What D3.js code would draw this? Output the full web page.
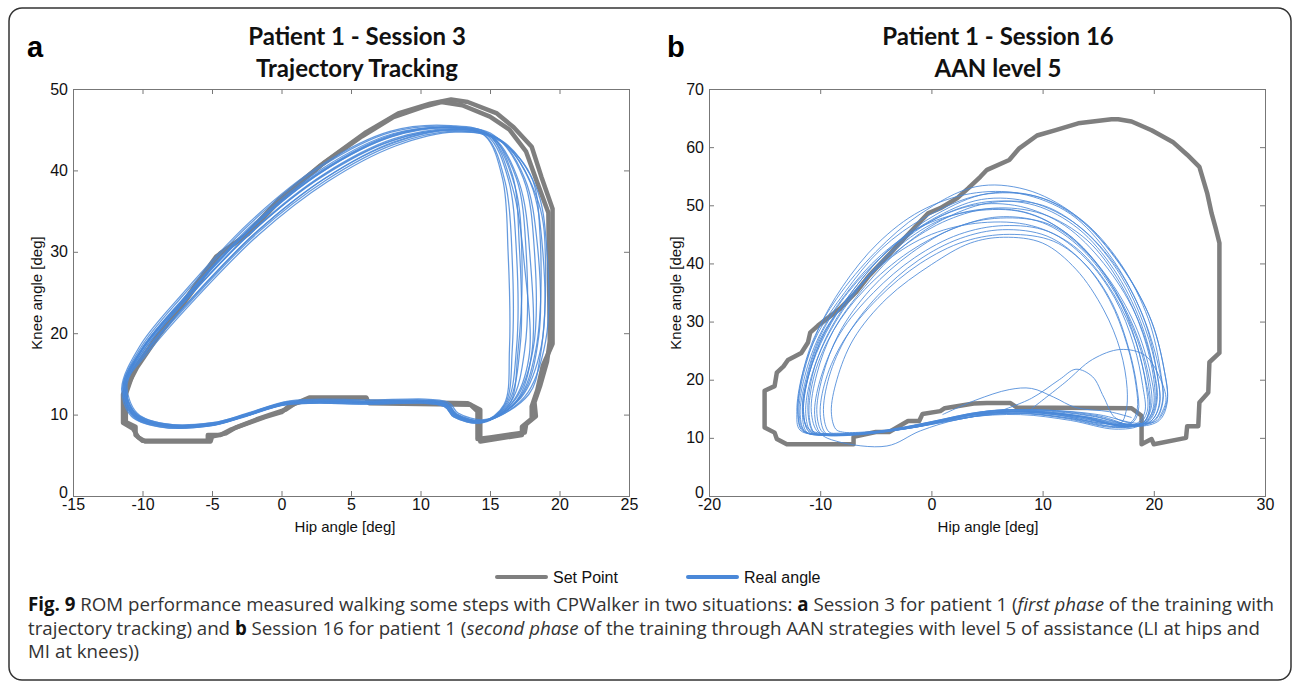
<!DOCTYPE html>
<html>
<head>
<meta charset="utf-8">
<script src="https://cdn.jsdelivr.net/npm/d3@7"></script>
<style>
  body { margin: 0; background: #fff; }
  svg { display: block; }
</style>
</head>
<body>
<div id="vis"></div>
<script>
const FRAME_WIDTH = 1292;
const FRAME_HEIGHT = 683;

// panel boxes (pixels)
const BOX_A = {left: 73, right: 629, top: 89, bottom: 496};
const BOX_B = {left: 709, right: 1265, top: 89, bottom: 496};

// axis ticks
const X_TICKS_A = [-15, -10, -5, 0, 5, 10, 15, 20, 25];
const Y_TICKS_A = [0, 10, 20, 30, 40, 50];
const X_TICKS_B = [-20, -10, 0, 10, 20, 30];
const Y_TICKS_B = [0, 10, 20, 30, 40, 50, 60, 70];

// set point loops [hip, knee] - panel a
const SET_A1 = [[-11.2,12.5],[-11.2,9.1],[-10.5,8.5],[-10.5,7.5],[-10,6.8],[-5.3,6.8],[-5.3,7.5],[-4.4,7.5],[-3.6,8.2],[-2,9.2],[-1.2,9.7],[0,10.3],[0.5,11],[2,12.1],[6.1,12.1],[6.2,11.6],[13.4,11.4],[14.3,10.6],[14.3,6.7],[17.3,7.5],[17.3,8.5],[18,9.5],[18,11],[18.4,13],[18.8,16],[19.5,18.7],[19.5,35.3],[18.7,39.2],[18,42.9],[16.7,45.3],[15.5,47],[13.4,48.4],[12.2,48.7],[10.7,48.2],[8.4,47],[6.1,44.7],[3.1,41],[0.1,36.7],[-2.4,32.2],[-4.7,29.4],[-7.5,22.8],[-9,19.5],[-10.6,15.5]];
const SET_A2 = [[-11.4,12.5],[-11.4,9],[-10.7,8.3],[-10.3,7.2],[-9.8,6.7],[-5.1,6.7],[-5,7.3],[-4,7.7],[-3.3,8.4],[-1.8,9.4],[-0.8,10],[0.3,10.6],[1,11.4],[2.4,12],[6.1,12],[6.3,11.4],[13.6,11.2],[14.1,10.4],[14.1,7],[15,7.2],[17.5,7.8],[17.6,8.8],[18.3,9.8],[18.2,11.5],[18.6,13.5],[19.1,16.5],[19.3,19],[19.2,34.8],[18.4,38.5],[17.6,42.3],[16.4,45],[15,46.6],[13,48],[11.5,48.4],[10.2,47.8],[8,46.5],[5.8,44.2],[2.8,40.6],[-0.2,36.4],[-2.6,32],[-4.4,29.8],[-7.2,23.3],[-8.8,19.8],[-10.4,15.8]];

// set point loop - panel b
const SET_B = [[16.2,64.8],[13.2,64.1],[11.1,62.9],[9.5,62],[7.9,59.8],[7,57.8],[5,56.1],[4.4,54.9],[3.3,52.9],[2.3,51.2],[0.8,49.5],[-0.3,48.6],[-2,45.2],[-5.6,37.9],[-6.8,35],[-8.3,32.1],[-10.2,29.3],[-10.9,28.1],[-11.1,26.4],[-11.7,24.6],[-12.9,23.4],[-13.3,22.3],[-13.9,21.2],[-14.1,18.9],[-15,18.1],[-15,11.8],[-14.1,10.9],[-13.9,9.8],[-13,8.9],[-7,8.9],[-7,10.2],[-5,11],[-3.8,11],[-2.1,12.9],[-1.1,12.9],[-0.8,14.1],[0.8,14.6],[1.2,15.1],[3.8,15.9],[5,16],[7.1,16],[7.7,15.2],[18,15.1],[18.9,13.8],[18.9,8.9],[19.8,9.8],[20,8.9],[22.9,10],[23,12],[24,12],[24.1,16.1],[24.9,17.8],[25,23],[25.9,24.6],[25.9,43.5],[25.6,45.8],[25.2,48.6],[24.8,52.1],[24.1,56.6],[23,58.7],[21.7,60.9],[19.8,62.9],[18,64.4],[16.8,64.8]];

// real angle cycles [hip, knee] - panel a
const REAL_A = [
  [[-11.3,13.5],[-10.6,10],[-8.6,8.7],[-5,8.8],[-2.6,9.9],[0.4,11.4],[6,11.5],[11.8,11.2],[12.5,9.9],[14.5,9.1],[16.2,11.4],[16.9,18],[16.9,30],[16.3,39],[14.8,44.3],[12.3,45.3],[8,44.3],[3,40],[-2,33.2],[-7,24.2],[-10,18]],
  [[-11.2,13.6],[-10.5,10.2],[-8.5,8.9],[-5,9],[-2.5,10.1],[0.5,11.6],[6,11.7],[11.9,11.4],[12.6,10.1],[14.6,9.3],[16.5,11.6],[17.5,18],[17.6,30],[16.9,39],[15.1,44.1],[12.2,45],[8,43.7],[3,39.4],[-2,32.6],[-7,23.8],[-10,17.7]],
  [[-11.4,13.4],[-10.7,9.8],[-8.7,8.5],[-5.1,8.6],[-2.7,9.7],[0.3,11.2],[6,11.3],[11.7,11],[12.4,9.7],[14.4,9],[16.8,11.8],[18.1,18],[18.2,30],[17.4,39],[15.3,44.3],[12.3,45.4],[7.9,44.7],[2.9,40.5],[-2.1,33.7],[-7.1,24.6],[-10.1,18.3]],
  [[-11.1,13.8],[-10.4,10.2],[-8.4,8.9],[-4.9,9],[-2.4,10.2],[0.6,11.7],[6.1,11.8],[12,11.5],[12.7,10.2],[14.7,9.4],[17.2,12],[18.7,18.5],[18.8,30],[17.9,38.5],[15.6,43.9],[12.4,44.8],[8.1,43.2],[3.2,38.8],[-1.8,32.2],[-6.8,23.4],[-9.8,17.5]],
  [[-11.3,13.3],[-10.6,9.8],[-8.6,8.6],[-5,8.7],[-2.6,9.8],[0.4,11.3],[6,11.4],[11.8,11.1],[12.5,9.8],[14.4,9.1],[16,11.2],[16.4,18],[16.3,30],[15.9,39],[14.6,44.3],[12.2,45.3],[8,44.4],[3,40.1],[-2,33.3],[-7,24.3],[-10,18.1]],
  [[-11.2,13.7],[-10.5,10.1],[-8.5,8.8],[-4.9,8.9],[-2.5,10],[0.5,11.5],[6.1,11.6],[11.9,11.3],[12.6,10],[14.6,9.2],[17.5,12.2],[19,19],[19.1,30],[18.3,38],[15.8,43.7],[12.5,44.7],[8.2,43],[3.3,38.6],[-1.7,32],[-6.7,23.3],[-9.7,17.4]],
  [[-11.5,13.2],[-10.8,9.8],[-8.8,8.5],[-5.2,8.6],[-2.8,9.7],[0.2,11.2],[5.9,11.3],[11.7,11],[12.4,9.7],[14.5,9],[16.6,11.5],[17.8,17],[17.5,28],[16.6,38],[14.9,44.4],[12.2,45.5],[7.8,44.8],[2.8,40.6],[-2.2,33.8],[-7.2,24.7],[-10.2,18.4]],
  [[-11.3,13.5],[-10.6,10],[-8.6,8.8],[-5,8.9],[-2.6,10],[0.4,11.5],[6,11.6],[11.8,11.3],[12.5,10],[14.6,9.2],[17,11.8],[18.3,18],[18.6,32],[17.9,39.5],[15.4,44],[12.4,45.1],[8.1,43.9],[3.1,39.6],[-1.9,32.9],[-6.9,24],[-9.9,17.9]],
  [[-11.2,13.5],[-10.5,10],[-8.5,8.7],[-5,8.8],[-2.5,9.9],[0.5,11.4],[6.1,11.5],[11.9,11.2],[12.6,9.9],[14.5,9.1],[16.3,11.4],[17.2,19],[17.1,31],[16.6,39.5],[15,44.4],[12.3,45.3],[8,44.2],[3,39.9],[-2,33.1],[-7,24.1],[-10,18]],
  [[-11.4,13.6],[-10.7,10],[-8.7,8.7],[-5.1,8.8],[-2.7,9.9],[0.3,11.4],[5.9,11.5],[11.7,11.2],[12.4,9.9],[14.5,9.1],[16.9,11.7],[18,17.5],[17.9,29],[17.1,38.5],[15.2,44.1],[12.3,45],[7.9,43.6],[2.9,39.2],[-2.1,32.5],[-7.1,23.7],[-10.1,17.8]],
  [[-11.3,13.4],[-10.6,9.9],[-8.6,8.6],[-5,8.7],[-2.6,9.8],[0.4,11.3],[6,11.4],[11.8,11.1],[12.5,9.8],[14.5,9.1],[16.1,11.3],[16.6,18],[16.6,29],[16.1,38.5],[14.7,44.2],[12.2,45.2],[8,44.5],[3,40.3],[-2,33.5],[-7,24.4],[-10,18.2]],
  [[-11.2,13.7],[-10.5,10.1],[-8.5,8.8],[-4.9,8.9],[-2.5,10],[0.5,11.5],[6.1,11.6],[11.9,11.3],[12.6,10],[14.7,9.3],[17.3,12.4],[18.5,19.5],[18.4,31],[17.5,39],[15.5,44],[12.4,45],[8.1,43.5],[3.2,39.1],[-1.8,32.4],[-6.8,23.6],[-9.8,17.6]],
  [[-11.4,13.3],[-10.7,9.9],[-8.7,8.6],[-5.1,8.7],[-2.7,9.8],[0.3,11.3],[5.9,11.4],[11.7,11.1],[12.4,9.8],[14.4,9.1],[16.4,11.3],[17,17.5],[17.3,29],[16.8,38],[15,44.2],[12.3,45.2],[7.9,44.1],[2.9,39.8],[-2.1,33],[-7.1,24.1],[-10.1,18]],
  [[-11.3,13.6],[-10.6,10.1],[-8.6,8.8],[-5,8.9],[-2.6,10],[0.4,11.5],[6,11.6],[11.8,11.3],[12.5,10],[14.6,9.2],[17.8,12.5],[18.6,17],[19,28],[18.5,36],[16,43.3],[12.5,44.9],[8.1,43.4],[3.1,39],[-1.9,32.3],[-6.9,23.5],[-9.9,17.6]]
];

// real angle cycles - panel b
const REAL_B = [
  [[-11.5,11.2],[-12,14],[-11.7,20],[-10.6,27],[-8.5,34],[-5,42],[-1,48.5],[4,53.2],[8.5,52.7],[12.8,48.5],[16.5,41],[19.6,31],[20.9,22],[21.2,16.5],[20.3,13],[18.5,12.5],[15,14],[10,14.8],[5,14.6],[0,12.8],[-4,11.2],[-8,10.6]],
  [[-11.3,11],[-11.8,14],[-11.3,20],[-10,27.5],[-7.5,35],[-4,42],[0,47.5],[4.5,51],[9,50.5],[13.2,46.5],[16.8,39],[19.2,30],[20.3,21],[20.5,15.5],[19.5,12.5],[17.5,12],[14,13.5],[9,14.5],[4,14.2],[-0.5,12.4],[-5,11],[-9,10.5]],
  [[-11,11],[-11.5,14.5],[-11,21],[-9.5,28.5],[-6.5,36],[-2.5,43],[1.5,47.5],[5.5,49.5],[10,48.5],[14,44],[17,36.5],[19,28],[20,20],[20,15],[19,12.5],[17,12],[13,13.8],[8,14.6],[3,13.8],[-1,12],[-5.5,10.8],[-9.5,10.5]],
  [[-10.5,10.8],[-11,14],[-10.5,21],[-8.8,28.5],[-6,35.5],[-2,42],[2,46],[6,48],[10,47],[13.5,42.5],[16.5,35],[18.5,27],[19.5,19.5],[19.6,14.5],[18.8,12.2],[16.5,11.5],[12.5,13],[8,14],[3,13.5],[-1.5,11.8],[-6,10.6],[-9.5,10.4]],
  [[-10,10.8],[-10.5,14],[-10,20],[-8.2,28],[-5.2,35],[-1.5,41],[2.5,45],[6.5,46.5],[10.5,45.5],[13.8,41],[16.5,34],[18.2,26],[19,19],[19.2,14.5],[18.5,12.5],[16,12],[12,13.5],[7.5,14.3],[2.5,13.2],[-1,11.2],[-4,8.6],[-8.5,9.4]],
  [[-9.5,10.8],[-10,14],[-9.5,20],[-7.8,27],[-4.8,34],[-1,40],[3,43.8],[7,45],[11,43.8],[14,39.5],[16.3,33],[17.8,25],[18.5,18.5],[18.6,14.5],[18,12.5],[15.5,12.5],[11,14],[6.5,14.5],[2,13],[-2.5,11.5],[-6,10.8],[-8.5,10.6]],
  [[-8.6,11.5],[-9,14.5],[-8.5,20],[-7,27],[-4,34],[0,39.8],[3.5,43.5],[6.5,44.5],[10,43.5],[13,39],[15.5,32],[17,25],[17.6,18.5],[17.5,14.5],[17,12.5],[15,12.8],[11,14.2],[6,14.8],[1.5,13.2],[-2.5,11.6],[-6,11],[-8,11]],
  [[-11,11.5],[-11.6,15],[-11,21],[-9.5,28],[-7,35.5],[-3.5,43],[0.5,48.5],[5,52],[9.5,51.5],[13.7,47],[17.3,39],[19.8,30],[21,21],[21.2,16],[20.5,13],[18.5,12],[15,13.8],[10,14.8],[5,14.5],[0,12.5],[-4.5,11],[-8.5,10.6]],
  [[-11.2,11],[-11.6,14],[-11.2,20],[-10,27],[-7.5,34],[-4,40.5],[0,45],[4.5,47],[9,46.5],[12.8,43],[15.8,36.5],[18,28.5],[19.2,20.5],[19.6,15],[19,12.5],[17,11.8],[13,13.2],[8.5,14.2],[3.5,13.8],[-1,12],[-5.5,10.8],[-9.5,10.4]],
  [[-10.2,11],[-10.8,14.5],[-10.3,21],[-8.8,28.5],[-6,36],[-2.5,43],[1.5,48],[5.5,50.5],[10,50],[13.8,45.5],[17,38],[19.2,29],[20.3,21],[20.5,16],[19.8,13],[17.8,12.3],[14,13.6],[9,14.6],[4,14],[-0.5,12.3],[-5,11],[-9,10.6]],
  [[-11.8,11.3],[-12.1,14.5],[-11.6,21],[-10.2,28],[-7.8,35],[-4.5,42.5],[-0.5,48],[4.5,51.8],[9.5,51.5],[13.5,47.5],[17,40],[19.5,30.5],[20.6,21.5],[20.8,16],[20,12.8],[18,12.2],[14.5,13.7],[9.5,14.7],[4.5,14.4],[-0.3,12.6],[-4.8,11.1],[-9,10.5]],
  [[-9.8,11],[-10.3,14.2],[-9.8,20.5],[-8.3,28],[-5.5,35.5],[-1.8,41.8],[2.2,46.2],[6.2,47.8],[10.5,46.8],[13.8,42.2],[16.6,35],[18.4,26.5],[19.3,19],[19.4,14.5],[18.6,12.3],[16.2,11.8],[12.2,13.3],[7.8,14.2],[2.8,13.4],[-1.8,11.8],[-6,10.7],[-8.8,10.5]],
  [[-11,11.2],[-11.5,14.5],[-11,21],[-9.6,28],[-7.2,35],[-4,42],[-0.3,47],[3.8,50],[8,49.8],[12,46.5],[15.5,40],[18.3,31.5],[19.9,22.5],[20.3,16.5],[19.6,13],[17.6,12.2],[14,13.6],[9,14.6],[4,14.2],[-0.5,12.5],[-5,11],[-9,10.6]],
  [[-10.8,11],[-11.3,14.2],[-10.8,20.5],[-9.2,28],[-6.6,35.5],[-3.2,42.5],[0.5,47.2],[4.5,49.3],[8.8,48.6],[12.6,44.5],[15.8,37.5],[18.2,29],[19.5,21],[19.8,15.5],[19.1,12.7],[17.2,12],[13.5,13.4],[8.5,14.4],[3.5,13.9],[-1,12.2],[-5.5,10.9],[-9.2,10.5]],
  [[-11.6,11.2],[-12,14.5],[-11.5,21],[-10.2,28.5],[-8,36],[-4.8,43.5],[-1,49],[3.5,52],[8,52],[12.5,48.5],[16,41.5],[18.8,32],[20.4,22.5],[20.8,16.5],[20,13],[18,12.3],[14.5,13.8],[9.5,14.8],[4.5,14.5],[-0.2,12.7],[-4.7,11.2],[-9,10.7]],
  [[-9.2,11],[-9.7,14.2],[-9.2,20.5],[-7.6,27.5],[-4.8,34.5],[-1.2,40.5],[2.6,44.3],[6.4,45.8],[10.4,44.7],[13.6,40.3],[16,33.8],[17.6,26],[18.4,19],[18.5,14.8],[17.9,12.6],[15.6,12.4],[11.5,13.9],[7,14.5],[2.2,13.1],[-2.2,11.6],[-5.8,10.9],[-8.3,10.8]],
  [[-10.6,11],[-11.1,14.5],[-10.6,21.5],[-9,29],[-6.3,36.5],[-2.8,43.5],[1,48.3],[5,50.6],[9.3,50],[13.2,46],[16.4,39],[18.8,30],[20,21.5],[20.2,16],[19.4,12.8],[17.4,12.1],[13.8,13.5],[8.8,14.5],[3.8,14.1],[-0.8,12.3],[-5.2,10.9],[-9.3,10.5]],
  [[-11.4,11.1],[-11.9,14.3],[-11.4,20.5],[-10.1,27.5],[-7.8,34.5],[-4.5,41.5],[-0.6,46.6],[3.8,49],[8.3,48.8],[12.3,45],[15.7,38],[18.3,29.5],[19.7,21],[20,15.8],[19.3,12.7],[17.3,12],[13.7,13.5],[8.7,14.5],[3.7,14],[-0.8,12.2],[-5.3,10.9],[-9.4,10.5]]
];
// a few irregular steps near the bottom of panel b
const STRAY_B = [
  [[1,14],[4,16.5],[7,18.3],[9,18.5],[11,17],[13,15.2],[16,14.5],[18,13.5]],
  [[6,14.5],[9,16.8],[11.5,20],[13,21.8],[14.5,20.5],[15.5,17],[16.5,13.5],[18,12.5]],
  [[9,15],[12,19.5],[14.5,23.5],[17,25.2],[19.2,24.2],[20.5,20.5],[21.1,16.5],[20.5,13.5]]
];

const GREY = "#7f7f7f";
const BLUE = "#4a88d8";
const TICK_FONT = "'Liberation Sans', Arial, sans-serif";

const svg = d3.select("#vis").append("svg")
  .attr("width", FRAME_WIDTH)
  .attr("height", FRAME_HEIGHT);

// outer frame
svg.append("rect")
  .attr("x", 9).attr("y", 8)
  .attr("width", 1282).attr("height", 672)
  .attr("rx", 13)
  .attr("fill", "none")
  .attr("stroke", "#333")
  .attr("stroke-width", 1.5);

function drawPanel(box, xDom, yDom, xTicks, yTicks, sets, reals, strays, realWidth) {
  const x = d3.scaleLinear().domain(xDom).range([box.left, box.right]);
  const y = d3.scaleLinear().domain(yDom).range([box.bottom, box.top]);
  const g = svg.append("g");

  const clipId = "clip" + box.left;
  svg.append("clipPath").attr("id", clipId)
    .append("rect")
      .attr("x", box.left).attr("y", box.top)
      .attr("width", box.right - box.left).attr("height", box.bottom - box.top);

  const plot = g.append("g").attr("clip-path", "url(#" + clipId + ")");

  const setLine = d3.line().x(d => x(d[0])).y(d => y(d[1])).curve(d3.curveLinearClosed);
  const realLine = d3.line().x(d => x(d[0])).y(d => y(d[1])).curve(d3.curveCatmullRomClosed.alpha(0.5));
  const strayLine = d3.line().x(d => x(d[0])).y(d => y(d[1])).curve(d3.curveCatmullRom.alpha(0.5));

  plot.selectAll(".set").data(sets).enter().append("path")
    .attr("d", setLine)
    .attr("fill", "none")
    .attr("stroke", GREY)
    .attr("stroke-width", 4.5)
    .attr("stroke-linejoin", "round");

  plot.selectAll(".real").data(reals).enter().append("path")
    .attr("d", realLine)
    .attr("fill", "none")
    .attr("stroke", BLUE)
    .attr("stroke-width", realWidth)
    .attr("stroke-opacity", 0.85);

  plot.selectAll(".stray").data(strays).enter().append("path")
    .attr("d", strayLine)
    .attr("fill", "none")
    .attr("stroke", BLUE)
    .attr("stroke-width", 1)
    .attr("stroke-opacity", 0.85);

  // axes: MATLAB style box with inward ticks
  const fmt = d => String(d);
  const bottom = g.append("g")
    .attr("transform", "translate(0," + box.bottom + ")")
    .call(d3.axisBottom(x).tickValues(xTicks).tickSize(-5).tickPadding(3).tickFormat(fmt));
  const top = g.append("g")
    .attr("transform", "translate(0," + box.top + ")")
    .call(d3.axisTop(x).tickValues(xTicks).tickSize(-5).tickFormat(""));
  const left = g.append("g")
    .attr("transform", "translate(" + box.left + ",0)")
    .call(d3.axisLeft(y).tickValues(yTicks).tickSize(-5).tickPadding(5).tickFormat(fmt));
  const right = g.append("g")
    .attr("transform", "translate(" + box.right + ",0)")
    .call(d3.axisRight(y).tickValues(yTicks).tickSize(-5).tickFormat(""));

  [bottom, top, left, right].forEach(a => {
    a.selectAll("path").attr("stroke", "#777");
    a.selectAll("line").attr("stroke", "#777");
    a.selectAll("text")
      .attr("fill", "#111")
      .style("font-family", TICK_FONT)
      .style("font-size", "16px");
  });
  // the zero label sits just above the corner, as in MATLAB
  left.selectAll(".tick text").filter(d => d === 0).attr("dy", "0.1em");
  return {x, y};
}

drawPanel(BOX_A, [-15, 25], [0, 50], X_TICKS_A, Y_TICKS_A, [SET_A1, SET_A2], REAL_A, [], 1.25);
drawPanel(BOX_B, [-20, 30], [0, 70], X_TICKS_B, Y_TICKS_B, [SET_B], REAL_B, STRAY_B, 1);

// titles and panel letters
const TITLE_FONT = "Lato, 'Open Sans', sans-serif";
function title(cx, lines) {
  svg.selectAll(null).data(lines).enter().append("text")
    .attr("x", cx)
    .attr("y", (d, i) => 45 + i * 32)
    .attr("text-anchor", "middle")
    .style("font-family", TITLE_FONT)
    .style("font-weight", "bold")
    .style("font-size", "24px")
    .attr("fill", "#111")
    .text(d => d);
}
title(357, ["Patient 1 - Session 3", "Trajectory Tracking"]);
title(998, ["Patient 1 - Session 16", "AAN level 5"]);

svg.append("text").attr("x", 27).attr("y", 57)
  .style("font-family", TICK_FONT).style("font-weight", "bold").style("font-size", "29px")
  .text("a");
svg.append("text").attr("x", 667).attr("y", 57)
  .style("font-family", TICK_FONT).style("font-weight", "bold").style("font-size", "29px")
  .text("b");

// axis titles
[[345, 37], [988, 676]].forEach(([cx, ly]) => {
  svg.append("text")
    .attr("x", cx).attr("y", 532)
    .attr("text-anchor", "middle")
    .style("font-family", TICK_FONT).style("font-size", "15px")
    .attr("fill", "#111")
    .text("Hip angle [deg]");
  svg.append("text")
    .attr("transform", "translate(" + (ly + 5) + ",293) rotate(-90)")
    .attr("text-anchor", "middle")
    .style("font-family", TICK_FONT).style("font-size", "15px")
    .attr("fill", "#111")
    .text("Knee angle [deg]");
});

// legend
const LEGEND = [
  {label: "Set Point", color: GREY, x: 497, w: 4},
  {label: "Real angle", color: BLUE, x: 688, w: 4}
];
const lg = svg.selectAll(".legend").data(LEGEND).enter().append("g");
lg.append("line")
  .attr("x1", d => d.x).attr("x2", d => d.x + 49)
  .attr("y1", 577).attr("y2", 577)
  .attr("stroke", d => d.color)
  .attr("stroke-width", d => d.w)
  .attr("stroke-linecap", "round");
lg.append("text")
  .attr("x", d => d.x + 56).attr("y", 583)
  .style("font-family", TICK_FONT).style("font-size", "16px")
  .attr("fill", "#111")
  .text(d => d.label);

// caption
const CAPTION = [
  [["b", "Fig. 9"], ["n", " ROM performance measured walking some steps with CPWalker in two situations: "], ["b", "a"], ["n", " Session 3 for patient 1 ("], ["i", "first phase"], ["n", " of the training with"]],
  [["n", "trajectory tracking) and "], ["b", "b"], ["n", " Session 16 for patient 1 ("], ["i", "second phase"], ["n", " of the training through AAN strategies with level 5 of assistance (LI at hips and"]],
  [["n", "MI at knees))"]]
];
const cap = svg.selectAll(".cap").data(CAPTION).enter().append("text")
  .attr("x", 28)
  .attr("y", (d, i) => 611 + i * 23.5)
  .style("font-family", "'Open Sans', sans-serif")
  .style("font-size", "18.7px")
  .attr("fill", "#333");
cap.selectAll("tspan").data(d => d).enter().append("tspan")
  .style("font-weight", d => d[0] === "b" ? "bold" : "normal")
  .style("font-style", d => d[0] === "i" ? "italic" : "normal")
  .attr("fill", d => d[0] === "b" ? "#111" : "#333")
  .text(d => d[1]);
</script>
</body>
</html>
